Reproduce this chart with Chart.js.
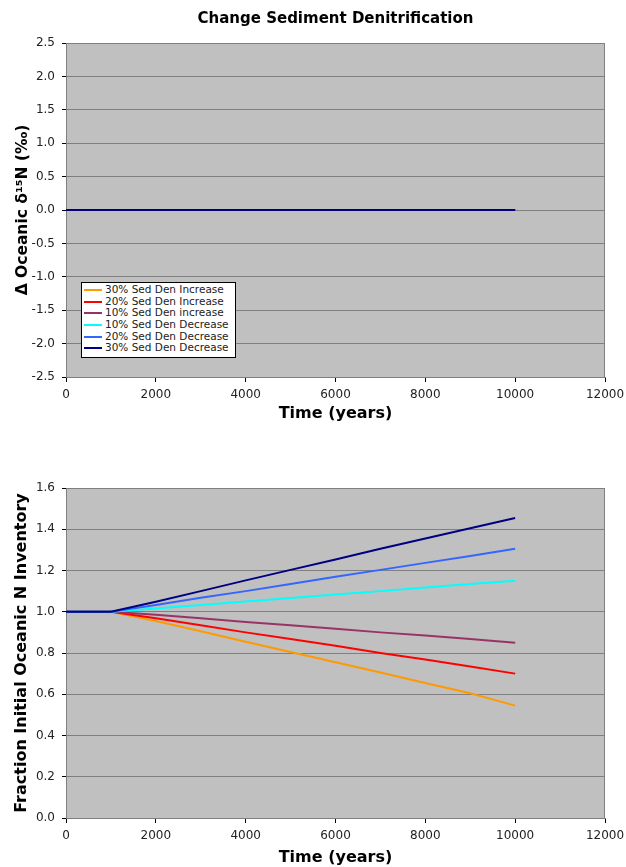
<!DOCTYPE html>
<html><head><meta charset="utf-8">
<script src="https://cdn.jsdelivr.net/npm/chart.js@4/dist/chart.umd.min.js"></script>
<style>
html,body{margin:0;padding:0;background:#fff;width:626px;height:867px;overflow:hidden;font-family:"DejaVu Sans",Verdana,sans-serif;}
#c1wrap{position:absolute;left:0;top:0;width:626px;height:430px;}
#c2wrap{position:absolute;left:0;top:440px;width:626px;height:427px;}
#legend{position:absolute;left:81px;top:282px;width:155px;height:76px;background:#fff;border:1px solid #000;font-size:10.5px;color:#222;padding:1px 0 0 0;box-sizing:border-box;}
#legend .row{height:11.7px;line-height:11.7px;white-space:nowrap;display:flex;align-items:center;}
#legend .sw{display:inline-block;width:18px;height:2px;margin:0 3px 0 2px;}
</style></head><body>
<div id="c1wrap"><canvas id="c1" width="626" height="430"></canvas></div>
<div id="c2wrap"><canvas id="c2" width="626" height="427"></canvas></div>
<div id="legend"></div>
<script>
// ---- data ----
const seriesNames = ["30% Sed Den Increase","20% Sed Den Increase","10% Sed Den increase","10% Sed Den Decrease","20% Sed Den Decrease","30% Sed Den Decrease"];
const seriesColors = ["#FF9900","#FF0000","#993366","#00FFFF","#3366FF","#000080"];
const years = [0,1000,2000,3000,4000,5000,6000,7000,8000,9000,10000];
// Top chart: change in oceanic d15N (all zero)
const d15N_inc30 = [0,0,0,0,0,0,0,0,0,0,0];
const d15N_inc20 = [0,0,0,0,0,0,0,0,0,0,0];
const d15N_inc10 = [0,0,0,0,0,0,0,0,0,0,0];
const d15N_dec10 = [0,0,0,0,0,0,0,0,0,0,0];
const d15N_dec20 = [0,0,0,0,0,0,0,0,0,0,0];
const d15N_dec30 = [0,0,0,0,0,0,0,0,0,0,0];
// Bottom chart: fraction of initial oceanic N inventory
const inv_inc30 = [1.0,1.0,0.955,0.905,0.855,0.805,0.755,0.705,0.655,0.605,0.545];
const inv_inc20 = [1.0,1.0,0.968,0.935,0.900,0.868,0.835,0.800,0.768,0.735,0.700];
const inv_inc10 = [1.0,1.0,0.985,0.968,0.950,0.935,0.918,0.900,0.885,0.868,0.850];
const inv_dec10 = [1.0,1.0,1.016,1.033,1.050,1.067,1.084,1.100,1.117,1.134,1.150];
const inv_dec20 = [1.0,1.0,1.033,1.068,1.100,1.135,1.170,1.203,1.237,1.270,1.305];
const inv_dec30 = [1.0,1.0,1.048,1.100,1.152,1.203,1.253,1.305,1.355,1.405,1.455];
const topTicksY = [-2.5,-2.0,-1.5,-1.0,-0.5,0.0,0.5,1.0,1.5,2.0,2.5];
const bottomTicksY = [0.0,0.2,0.4,0.6,0.8,1.0,1.2,1.4,1.6];
const xTicks = [0,2000,4000,6000,8000,10000,12000];
const chartTitle = 'Change Sediment Denitrification';

const topSeries = [d15N_inc30,d15N_inc20,d15N_inc10,d15N_dec10,d15N_dec20,d15N_dec30];
const botSeries = [inv_inc30,inv_inc20,inv_inc10,inv_dec10,inv_dec20,inv_dec30];

// legend
const lg = document.getElementById('legend');
seriesNames.forEach((n,i)=>{
  const r=document.createElement('div');r.className='row';
  r.innerHTML='<span class="sw" style="background:'+seriesColors[i]+'"></span>'+n;
  lg.appendChild(r);
});

const FONT = '"DejaVu Sans", Verdana, sans-serif';
const plotBg = {
  id:'plotBg',
  beforeDraw(chart){
    const a=chart.chartArea, c=chart.ctx;
    c.save();c.fillStyle='#C0C0C0';c.fillRect(a.left,a.top,a.right-a.left,a.bottom-a.top);c.restore();
  },
  afterDraw(chart){
    const a=chart.chartArea, c=chart.ctx;
    c.save();c.strokeStyle='#808080';c.lineWidth=1;
    c.beginPath();c.moveTo(a.left,a.top+0.5);c.lineTo(a.right-0.5,a.top+0.5);c.lineTo(a.right-0.5,a.bottom);c.stroke();
    const t=chart.options.plugins.centerTitle;
    if(t&&t.text){
      c.fillStyle='#000';c.font='bold 15px '+FONT;c.textAlign='center';c.textBaseline='middle';
      c.fillText(t.text,(a.left+a.right)/2,t.y);
    }
    c.restore();
  }
};

function makeDatasets(arr){
  return arr.map((d,i)=>({
    label:seriesNames[i],
    data:years.map((x,j)=>({x:x,y:d[j]})),
    borderColor:seriesColors[i],backgroundColor:seriesColors[i],
    borderWidth:2,pointRadius:0,tension:0,fill:false,order:arr.length-1-i
  }));
}

function makeOptions(ymin,ymax,yticks,ytitle,yTitleSize,yTitlePad,xHeight,xTitlePadBottom,padTop){
  return {
    responsive:false,animation:false,
    layout:{padding:{left:0,right:21,top:padTop,bottom:0}},
    plugins:{legend:{display:false},tooltip:{enabled:false}},
    scales:{
      x:{type:'linear',min:0,max:12000,
        afterBuildTicks(s){s.ticks=xTicks.map(v=>({value:v}));},
        afterFit(s){s.height=xHeight;s.paddingLeft=0;s.paddingRight=0;},
        grid:{drawOnChartArea:false,tickLength:5,tickColor:'#000',color:'#000'},
        border:{color:'#808080',width:1},
        ticks:{color:'#222',font:{family:FONT,size:12},padding:6,maxRotation:0,callback:v=>String(v)},
        title:{display:true,text:'Time (years)',color:'#000',font:{family:FONT,size:16,weight:'bold'},padding:{top:0,bottom:xTitlePadBottom}}
      },
      y:{type:'linear',min:ymin,max:ymax,
        afterBuildTicks(s){s.ticks=yticks.map(v=>({value:v}));},
        afterFit(s){s.width=66;s.paddingTop=0;s.paddingBottom=0;},
        grid:{drawOnChartArea:true,tickLength:4,color:'#808080',tickColor:'#000'},
        border:{color:'#808080',width:1},
        ticks:{color:'#222',font:{family:FONT,size:12},padding:7,callback:v=>Number(v).toFixed(1)},
        title:{display:true,text:ytitle,color:'#000',font:{family:FONT,size:yTitleSize,weight:'bold'},padding:{top:yTitlePad,bottom:0}}
      }
    }
  };
}

const o1 = makeOptions(-2.5,2.5,topTicksY,'\u0394 Oceanic \u03B4\u00B9\u2075N (\u2030)',15.5,14,53,7,43);
o1.plugins.centerTitle={text:chartTitle,y:19};
new Chart(document.getElementById('c1'),{type:'line',data:{datasets:makeDatasets(topSeries)},options:o1,plugins:[plotBg]});

const o2 = makeOptions(0,1.6,bottomTicksY,'Fraction Initial Oceanic N Inventory',16,12,49,0,48);
new Chart(document.getElementById('c2'),{type:'line',data:{datasets:makeDatasets(botSeries)},options:o2,plugins:[plotBg]});
</script>
</body></html>
